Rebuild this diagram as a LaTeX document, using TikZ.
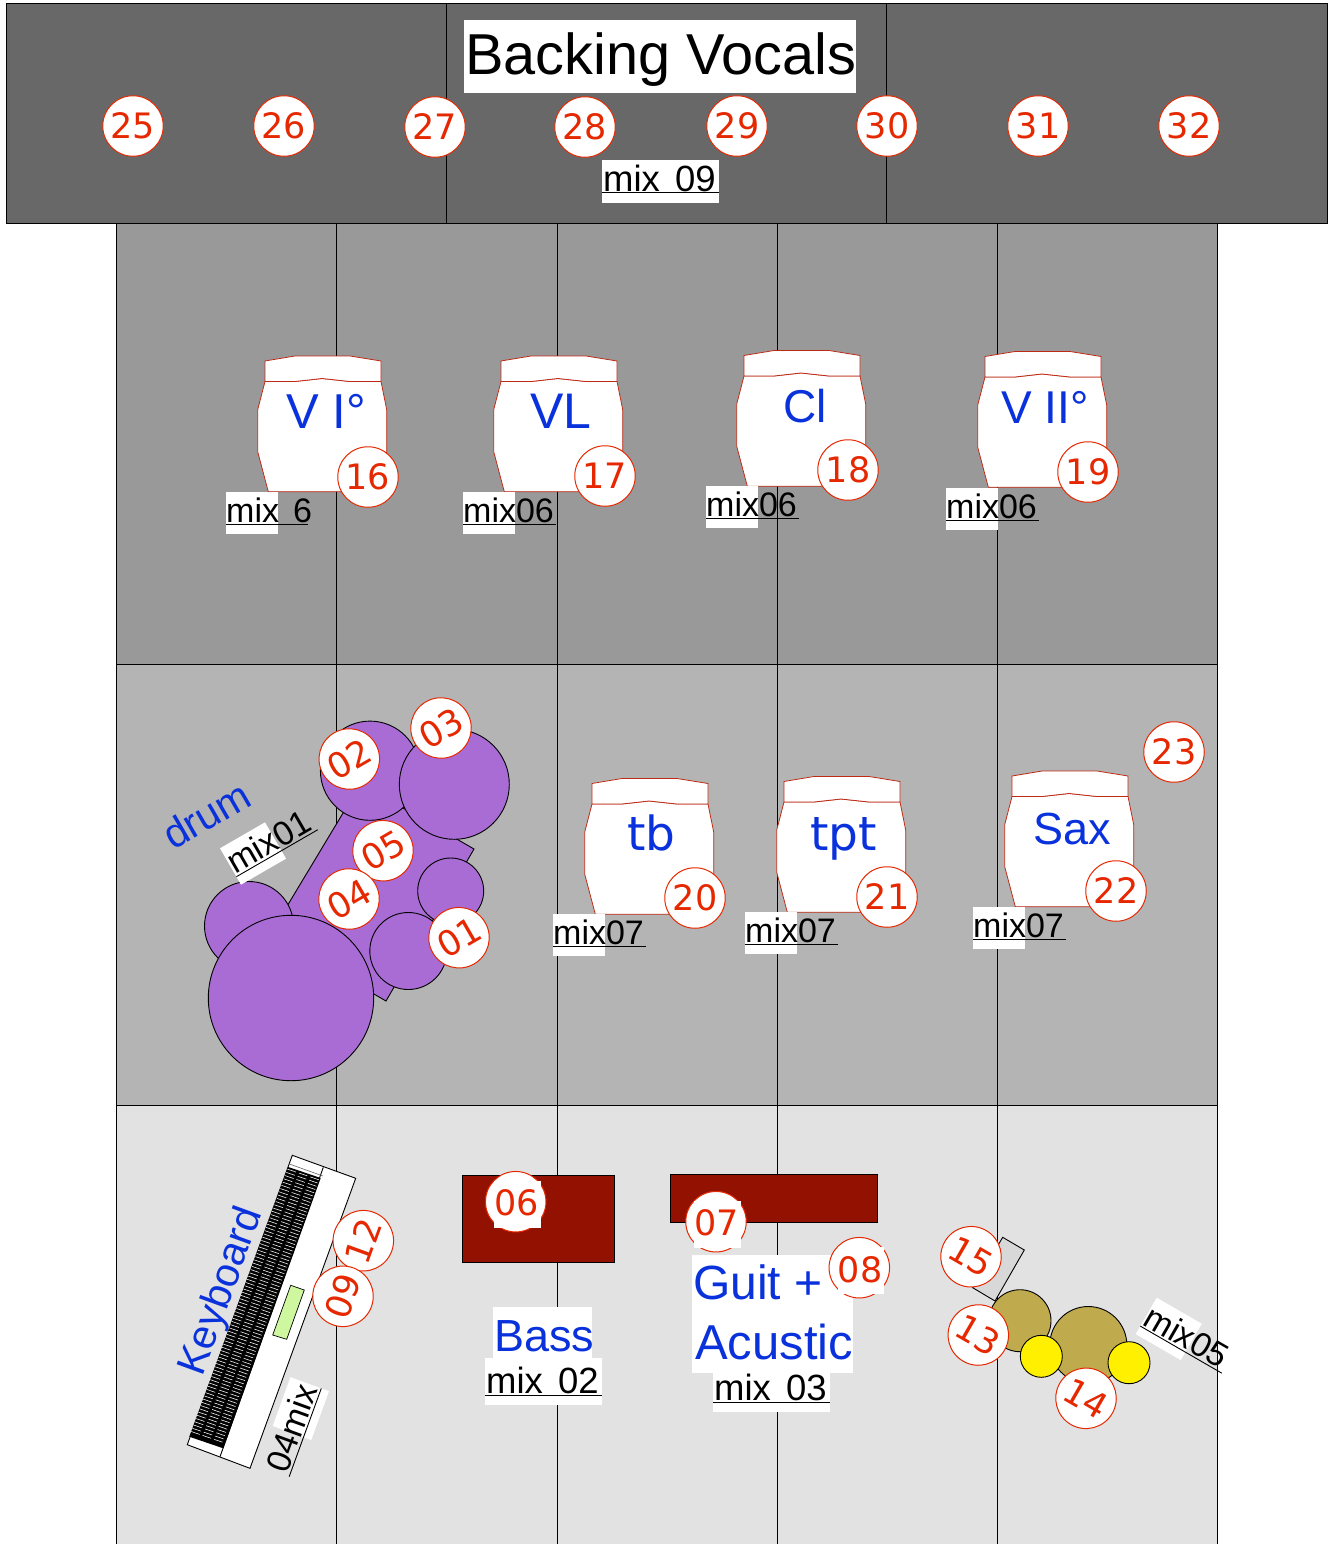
\documentclass[tikz,border=0pt]{standalone}
\usepackage{fontspec}
\setmainfont{Liberation Sans}
\newfontfamily\numf{DejaVu Sans}
\newfontfamily\mixf[WordSpace=1.5]{Liberation Sans}
\usetikzlibrary{calc}
\definecolor{bandA}{HTML}{686868}
\definecolor{bandB}{HTML}{999999}
\definecolor{bandC}{HTML}{B4B4B4}
\definecolor{bandD}{HTML}{E2E2E2}
\definecolor{numred}{HTML}{E62800}
\definecolor{standred}{HTML}{BE2A14}
\definecolor{tagblue}{HTML}{0A32DC}
\definecolor{drumpurple}{HTML}{A96BD4}
\definecolor{amp}{HTML}{931100}
\definecolor{tan}{HTML}{BFAB4E}
\definecolor{cym}{HTML}{FFF000}
\definecolor{lcd}{HTML}{CFF7A0}
\definecolor{shell}{HTML}{D8D8D8}
\tikzset{
  x=1pt,y=-1pt,
  band/.style={draw=black,line width=0.8pt},
  numc/.style={circle,draw=numred,fill=white,line width=1pt,minimum size=60.5pt,inner sep=0pt,text=numred,font=\numf\fontsize{35}{35}\selectfont},
  numt/.style={inner sep=0pt,text=numred,font=\numf\fontsize{35}{35}\selectfont},
  bluet/.style={anchor=base west,inner sep=0pt,text=tagblue,font=\fontsize{48}{48}\selectfont},
  bluew/.style={anchor=base west,inner sep=0pt,text=tagblue,font=\numf\fontsize{47}{47}\selectfont},
  mixt/.style={anchor=base west,inner sep=0pt,text=black,font=\mixf\fontsize{34}{34}\selectfont},
  mixb/.style={anchor=base west,inner sep=0pt,text=black,font=\mixf\fontsize{36.5}{36.5}\selectfont},
  kit/.style={draw=black,line width=0.9pt,fill=drumpurple},
  stand/.style={draw=standred,line width=0.8pt,fill=white},
}
\newcommand{\standshape}[2]{%
  \begin{scope}[shift={(#1,#2)}]
    \draw[stand] (0,20.5) -- (-7.3,48.6) -- (-7.3,90.7) -- (3.3,130.7) -- (111.7,130.7) -- (121.7,91) -- (121.7,48.6) -- (116,20.5) -- (85,20.5) -- (57,17.5) -- (30,20.5) -- cycle;
    \draw[stand] (0,0) -- (30,-5) -- (85,-5) -- (116,0) -- (116,20.5) -- (85,20.5) -- (57,17.5) -- (30,20.5) -- (0,20.5) -- cycle;
  \end{scope}}
% name, x, y, rot, text, underline length
\newcommand{\mixtag}[6]{%
  \begin{scope}[shift={(#2,#3)},rotate=#4]
    \fill[white] (0,0) rectangle (52,42);
    \draw[black,line width=0.9pt] (0,32.8) -- (#6,32.8);
    \node[mixt,rotate=#4] (#1) at (0,30.3) {#5};
  \end{scope}}
\begin{document}
\begin{tikzpicture}
\useasboundingbox (0,0) rectangle (1332,1544);
\fill[white] (0,0) rectangle (1332,1544);
\clip (0,0) rectangle (1332,1544);
% bands
\draw[band,fill=bandA] (5.9,3) rectangle (1326.9,223);
\draw[band] (445.9,3) -- (445.9,223) (885.9,3) -- (885.9,223);
\draw[band,fill=bandB] (115.9,223) rectangle (1216.9,664);
\draw[band,fill=bandC] (115.9,664) rectangle (1216.9,1105);
\draw[band,fill=bandD] (115.9,1105) rectangle (1216.9,1560);
\foreach \vx in {335.9,556.9,776.9,996.9} \draw[band] (\vx,223) -- (\vx,1560);
% top labels
\fill[white] (464,20) rectangle (856,93);
\node[anchor=base west,inner sep=0pt,font=\fontsize{57.7}{57.7}\selectfont] (bv) at (465,75) {Backing Vocals};
\foreach \n/\cx/\cy in {25/133/126,26/284/126,27/435/127,28/585/127,29/737/126,30/887/126,31/1038/126,32/1189/126}
  \node[numc] (n\n) at (\cx,\cy) {\n};
\fill[white] (602,160) rectangle (719,203);
\draw[black,line width=0.9pt] (602,192.7) -- (719,192.7);
\node[mixb] (m09) at (603,191) {mix 09};
% stands
\standshape{265}{361}
\standshape{501}{361}
\standshape{744}{355.5}
\standshape{985}{356.5}
\standshape{592}{783.5}
\standshape{784}{781.5}
\standshape{1012}{776}
\node[bluet,font=\fontsize{49}{49}\selectfont] (tVI) at (286,428) {V I°};
\node[bluet,font=\fontsize{50}{50}\selectfont] (tVL) at (530,428) {VL};
\node[bluet,font=\fontsize{46}{46}\selectfont] (tCl) at (783,422) {Cl};
\node[bluet,font=\fontsize{46}{46}\selectfont] (tVII) at (1001,423) {V II°};
\node[bluew] (ttb) at (627,850) {tb};
\node[bluew] (ttpt) at (810,850) {tpt};
\node[bluet,font=\fontsize{45}{45}\selectfont] (tSax) at (1033,844) {Sax};
\foreach \n/\cx/\cy in {16/368/477,17/605/476,18/848/470,19/1088/472,20/695/898,21/887/897,22/1116/891,23/1174/752}
  \node[numc] (n\n) at (\cx,\cy) {\n};
\mixtag{m6}{226}{492}{0}{mix 6}{82}
\mixtag{m06a}{463}{492}{0}{mix06}{93}
\mixtag{m06b}{706}{486}{0}{mix06}{93}
\mixtag{m06c}{946}{488}{0}{mix06}{93}
\mixtag{m07a}{553}{914}{0}{mix07}{93}
\mixtag{m07b}{745}{912}{0}{mix07}{93}
\mixtag{m07c}{973}{907}{0}{mix07}{93}
% drum kit
\draw[kit] (360.7,783.6) -- (474,849) -- (386,1001) -- (270.3,934) -- cycle;
\draw[kit] (249,926) circle (44.5);
\draw[kit] (291,998) circle (82.7);
\draw[kit] (370,770.7) circle (49.6);
\draw[kit] (454.3,784.3) circle (55);
\draw[kit] (450.7,891) circle (33);
\draw[kit] (408.3,951) circle (38.5);
\foreach \n/\cx/\cy in {02/349.3/759,03/441/728,05/383/850.7,04/349/899,01/459/937.7}
  \node[numc,rotate=30] (n\n) at (\cx,\cy) {\n};
\node[bluet,rotate=30,font=\fontsize{41}{41}\selectfont] (tdrum) at (173,851) {drum};
\mixtag{m01}{220}{848.3}{30}{mix01}{94}
% amps
\draw[line width=0.9pt,draw=black,fill=amp] (462.7,1175.3) rectangle (614,1262.3);
\draw[line width=0.9pt,draw=black,fill=amp] (670,1174) rectangle (877.7,1222.3);
\node[numc] (n06) at (515.7,1201.7) {};
\fill[white] (494,1181.3) rectangle (541,1228);
\node[numt] (l06) at (516.5,1203) {06};
\fill[white] (692,1255) rectangle (852.7,1373.3);
\node[numc] (n07) at (716,1221.7) {};
\fill[white] (694,1201.3) rectangle (741,1248);
\node[numt] (l07) at (716.5,1223) {07};
\node[numc] (n08) at (859.3,1267.7) {};
\fill[white] (838,1247.3) rectangle (884,1294);
\node[numt] (l08) at (860,1270) {08};
\fill[white] (493,1307) rectangle (592,1357.7);
\fill[white] (485,1357.7) rectangle (602,1405);
\node[bluet,font=\fontsize{45}{45}\selectfont] (tBass) at (494,1351.7) {Bass};
\draw[black,line width=0.9pt] (485,1395) -- (602,1395);
\node[mixb] (m02) at (486,1393) {mix 02};
\node[bluet] (tGuit) at (693,1299) {Guit +};
\node[bluet,font=\fontsize{49}{49}\selectfont] (tAc) at (695,1359) {Acustic};
\fill[white] (713,1373.3) rectangle (830,1411.7);
\draw[black,line width=0.9pt] (713,1402) -- (830,1402);
\node[mixb] (m03) at (714,1400) {mix 03};
% keyboard
\coordinate (ka) at (292.3,1155.3);
\coordinate (kb) at (355.7,1178.3);
\coordinate (kc) at (250,1468.3);
\coordinate (kd) at (187.3,1444.7);
\draw[line width=0.9pt,draw=black,fill=white] (ka) -- (kb) -- (kc) -- (kd) -- cycle;
\draw[line width=0.9pt,draw=black] (323.3,1167.3) -- (220,1456.7);
\draw[line width=0.6pt,draw=black!60] (289.3,1164) -- (323,1176);
\coordinate (ke) at (288.3,1167);
\coordinate (kf) at (320.7,1178);
\coordinate (kg) at (223.3,1448.3);
\coordinate (kh) at (189.3,1436.7);
\fill[black] (ke) -- (kf) -- (kg) -- (kh) -- cycle;
\foreach \t in {0.008,0.02,...,0.99}
  \draw[white,line width=0.55pt,dash pattern=on 9pt off 3pt] ($(ke)!\t!(kh)$) -- ($(kf)!\t!(kg)$);
\draw[line width=0.7pt,draw=black,fill=lcd] (290.7,1285.3) -- (304.3,1290) -- (286.7,1339.3) -- (272.7,1335) -- cycle;
\node[bluet,rotate=70,font=\fontsize{41}{41}\selectfont] (tKey) at (202,1378) {Keyboard};
\begin{scope}[shift={(272.7,1426)},rotate=70]
  \fill[white] (0,0) rectangle (52,41);
  \draw[black,line width=0.9pt] (-42,32.8) -- (52,32.8);
  \node[mixt,rotate=70] (m04) at (-41,30.3) {04mix};
\end{scope}
\node[numc,rotate=70] (n12) at (363.3,1240.7) {12};
\node[numc,rotate=70] (n09) at (343,1296.3) {09};
% small kit
\draw[line width=0.9pt,draw=black,fill=shell] (1002.7,1237.3) -- (1024.3,1250) -- (995,1301) -- (972.7,1287.7) -- cycle;
\draw[kit,fill=tan] (1020,1320.7) circle (31);
\draw[kit,fill=tan] (1088.3,1345) circle (38.5);
\draw[kit,fill=cym] (1041.3,1356.3) circle (21);
\draw[kit,fill=cym] (1129,1362.7) circle (21);
\foreach \n/\cx/\cy in {15/971/1256.7,13/978.3/1335,14/1086/1398.3}
  \node[numc,rotate=-30] (n\n) at (\cx,\cy) {\n};
\mixtag{m05}{1156.7}{1297.7}{-30}{mix05}{94}
\end{tikzpicture}
\end{document}
